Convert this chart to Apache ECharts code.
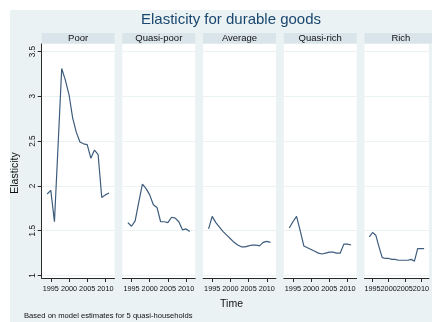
<!DOCTYPE html>
<html>
<head>
<meta charset="utf-8">
<script src="https://cdn.jsdelivr.net/npm/echarts@6/dist/echarts.min.js"></script>
<style>
  html, body { margin: 0; padding: 0; background: #ffffff; }
  #bg { position: absolute; left: 10px; top: 10px; width: 422px; height: 312px; background: #eaf2f3; }
  #chart { position: absolute; left: 0; top: 0; width: 432px; height: 322px; }
</style>
</head>
<body>
<div id="bg"></div>
<div id="chart"></div>
<script>
// Household groups, one panel each
const groups = ['Poor', 'Quasi-poor', 'Average', 'Quasi-rich', 'Rich'];

// Survey years
const years = [1994, 1995, 1996, 1997, 1998, 1999, 2000, 2001, 2002,
               2003, 2004, 2005, 2006, 2007, 2008, 2009, 2010, 2011];

// Estimated elasticity per group and year
const poor      = [1.91, 1.95, 1.60, 2.45, 3.31, 3.18, 3.02, 2.76, 2.60, 2.49, 2.47, 2.46, 2.31, 2.40, 2.35, 1.87, 1.90, 1.92];
const quasiPoor = [1.59, 1.55, 1.61, 1.82, 2.02, 1.97, 1.90, 1.79, 1.76, 1.60, 1.60, 1.59, 1.65, 1.64, 1.60, 1.51, 1.52, 1.49];
const average   = [1.52, 1.66, 1.59, 1.54, 1.49, 1.45, 1.41, 1.37, 1.34, 1.32, 1.32, 1.33, 1.34, 1.34, 1.33, 1.37, 1.38, 1.37];
const quasiRich = [1.53, 1.60, 1.66, 1.50, 1.33, 1.31, 1.29, 1.27, 1.25, 1.24, 1.25, 1.26, 1.26, 1.25, 1.25, 1.35, 1.35, 1.34];
const rich      = [1.43, 1.48, 1.45, 1.32, 1.20, 1.19, 1.19, 1.18, 1.18, 1.17, 1.17, 1.17, 1.17, 1.18, 1.16, 1.30, 1.30, 1.30];

// Axis tick labels
const yTicks = [1, 1.5, 2, 2.5, 3, 3.5];
const xTicks = [1995, 2000, 2005, 2010];

const seriesValues = [poor, quasiPoor, average, quasiRich, rich];

// Layout
const FONT = '"Liberation Sans", Arial, Helvetica, sans-serif';
const NAVY = '#1a476f';
const AXIS = '#2a2a2a';
const panelLeft = 41.7, panelStep = 80.7, panelWidth = 72.8;
const plotTop = 44, plotHeight = 234;
const stripTop = 33, stripHeight = 10.5;

const grids = [], xAxes = [], yAxes = [], series = [], graphics = [];

groups.forEach((name, i) => {
  const left = panelLeft + i * panelStep;
  grids.push({
    left: left, top: plotTop, width: panelWidth, height: plotHeight,
    show: true, backgroundColor: '#ffffff', borderWidth: 0
  });
  xAxes.push({
    gridIndex: i, type: 'value', min: 1992.5, max: 2012.5,
    axisLine: { show: true, onZero: false, lineStyle: { color: AXIS, width: 1 } },
    axisTick: { show: true, customValues: xTicks, length: 4, lineStyle: { color: AXIS, width: 1 } },
    axisLabel: { customValues: xTicks, fontSize: 7.3, color: '#111', margin: 7.5, fontFamily: FONT,
                 hideOverlap: false, showMinLabel: true, showMaxLabel: true,
                 formatter: v => String(v) },
    splitLine: { show: false }
  });
  yAxes.push({
    gridIndex: i, type: 'value', min: 0.972, max: 3.584,
    axisLine: { show: i === 0, lineStyle: { color: AXIS, width: 1 } },
    axisTick: { show: i === 0, customValues: yTicks, length: 4, lineStyle: { color: AXIS, width: 1 } },
    axisLabel: { show: i === 0, customValues: yTicks, rotate: 90, fontSize: 8.2, color: '#111',
                 margin: 5, fontFamily: FONT, formatter: v => String(v) },
    splitLine: { show: true, lineStyle: { color: '#eaf2f3', width: 1 } }
  });
  series.push({
    name: name, type: 'line', xAxisIndex: i, yAxisIndex: i,
    data: years.map((y, k) => [y, seriesValues[i][k]]),
    showSymbol: false, symbol: 'none', silent: true,
    lineStyle: { color: '#3d5c7c', width: 1.2 },
    z: 3
  });
  // strip heading above each panel
  graphics.push({
    type: 'rect', silent: true,
    shape: { x: left, y: stripTop, width: panelWidth, height: stripHeight },
    style: { fill: '#d9e5ea' }
  });
  graphics.push({
    type: 'text', silent: true,
    x: left + panelWidth / 2, y: stripTop + stripHeight / 2 + 0.5,
    style: { text: name, fontSize: 9.5, fontFamily: FONT, fill: '#111',
             align: 'center', verticalAlign: 'middle' }
  });
});

// axis titles and note
graphics.push({
  type: 'text', silent: true, x: 15, y: 173, rotation: Math.PI / 2,
  style: { text: 'Elasticity', fontSize: 10.5, fontFamily: FONT, fill: '#111',
           align: 'center', verticalAlign: 'middle' }
});
graphics.push({
  type: 'text', silent: true, x: 231.5, y: 304,
  style: { text: 'Time', fontSize: 10.5, fontFamily: FONT, fill: '#111',
           align: 'center', verticalAlign: 'middle' }
});
graphics.push({
  type: 'text', silent: true, x: 24, y: 316,
  style: { text: 'Based on model estimates for 5 quasi-households', fontSize: 7.6,
           fontFamily: FONT, fill: '#111', align: 'left', verticalAlign: 'middle' }
});

const chart = echarts.init(document.getElementById('chart'), null, { renderer: 'canvas' });
chart.setOption({
  animation: false,
  backgroundColor: 'transparent',
  title: {
    text: 'Elasticity for durable goods',
    left: 231, top: 12, textAlign: 'center', padding: 0,
    textStyle: { fontSize: 15, fontWeight: 'normal', color: NAVY, fontFamily: FONT }
  },
  grid: grids,
  xAxis: xAxes,
  yAxis: yAxes,
  series: series,
  graphic: graphics
});
</script>
</body>
</html>
